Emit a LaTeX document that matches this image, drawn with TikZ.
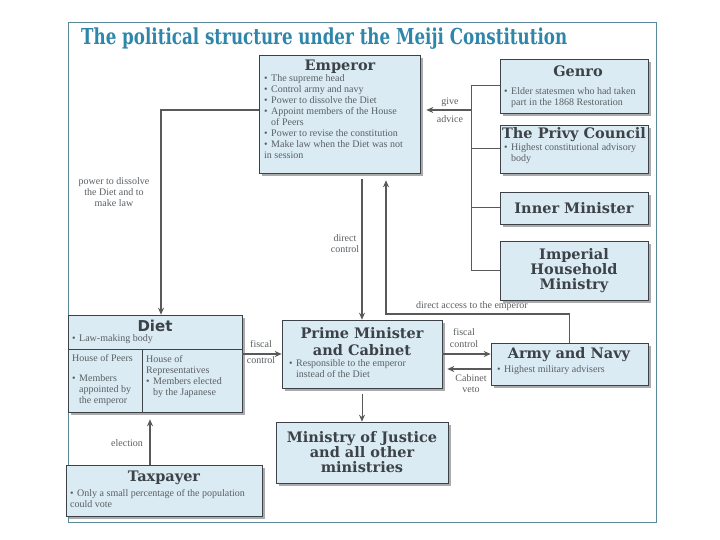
\documentclass[tikz,border=0pt]{standalone}
\usepackage{fontspec}
\setmainfont{Liberation Serif}
\newfontfamily\headserif{DejaVu Serif}
\newfontfamily\headsans{DejaVu Sans}
\usetikzlibrary{arrows.meta,shadows}

\definecolor{boxblue}{HTML}{DAEBF3}
\definecolor{inkgray}{HTML}{3C4247}
\definecolor{txtgray}{HTML}{5A5F63}
\definecolor{arrowgray}{HTML}{595959}
\definecolor{titleteal}{HTML}{2E86AB}
\definecolor{framegray}{HTML}{5A8A9A}

\newcommand{\bul}{\makebox[7pt][l]{\textbullet}}
\newcommand{\ind}{\hspace*{7pt}}

\tikzset{
  box/.style={draw=inkgray, line width=0.6pt, fill=boxblue, inner sep=0pt,
    drop shadow={shadow xshift=3pt, shadow yshift=-3pt, fill=black!60, opacity=0.55}},
  head/.style={font=\headserif\bfseries\fontsize{14.5}{15}\selectfont, text=inkgray, align=center, inner sep=0pt},
  body/.style={font=\fontsize{10}{11}\selectfont, text=txtgray, align=left, inner sep=0pt, anchor=north west},
  lbl/.style={font=\fontsize{10}{11}\selectfont, text=txtgray, align=center, inner sep=0pt},
  link/.style={draw=arrowgray, line width=1.3pt, -{Stealth[length=7pt,width=6pt]}},
  wire/.style={draw=arrowgray, line width=1pt},
}

\begin{document}
\begin{tikzpicture}[x=1pt, y=-1pt]
\useasboundingbox (0,0) rectangle (720,540);

% Frame and title
\draw[framegray, line width=0.8pt] (68,22) rectangle (656,522);
\node[font=\headserif\bfseries\fontsize{22}{22}\selectfont, text=titleteal, anchor=west, inner sep=0pt] (title) at (81,39)
  {\scalebox{0.76}[1]{The political structure under the Meiji Constitution}};

% Boxes
\node[box, minimum width=161, minimum height=118] (emp) at (339.5,114) {};
\node[box, minimum width=148, minimum height=54] (genro) at (574,86) {};
\node[box, minimum width=148, minimum height=48] (privy) at (574,149) {};
\node[box, minimum width=148, minimum height=32] (inner) at (574,208) {};
\node[box, minimum width=148, minimum height=59] (imperial) at (574,270.5) {};
\node[box, minimum width=174, minimum height=97] (diet) at (155,363.5) {};
\node[box, minimum width=160, minimum height=68] (pm) at (362,354) {};
\node[box, minimum width=157, minimum height=42] (army) at (569.5,364) {};
\node[box, minimum width=172, minimum height=61] (ministry) at (362,452.5) {};
\node[box, minimum width=196, minimum height=51] (tax) at (164,490.5) {};

% Emperor
\node[head] (empT) at (340,67) {Emperor};
\node[body] (empB) at (264,74.5) {\bul The supreme head\\ \bul Control army and navy\\ \bul Power to dissolve the Diet\\
  \bul Appoint members of the House\\ \ind of Peers\\ \bul Power to revise the constitution\\
  \bul Make law when the Diet was not\\ in session};

% Advisers
\node[head] (genroT) at (578,71) {Genro};
\node[body] (genroB) at (504,87.5) {\bul Elder statesmen who had taken\\ \ind part in the 1868 Restoration};
\node[head] (privyT) at (574,135) {The Privy Council};
\node[body] (privyB) at (504,143) {\bul Highest constitutional advisory\\ \ind body};
\node[head] (innerT) at (574,208) {Inner Minister};
\node[head] (imperialT) at (574,270.5) {Imperial\\Household\\Ministry};

% Diet
\coordinate (split) at (142,349);
\node[head, font=\headsans\bfseries\fontsize{15}{15}\selectfont] (dietT) at (155,326) {Diet};
\node[body] (dietB) at (72,334.5) {\bul Law-making body};
\draw[inkgray, line width=0.6pt] (diet.west |- split) -- (diet.east |- split);
\draw[inkgray, line width=0.6pt] (split) -- (split |- diet.south);
\node[body] (peersB) at (72,354.5) {House of Peers\\[9pt] \bul Members\\ \ind appointed by\\ \ind the emperor};
\node[body] (repsB) at (146,355.5) {House of\\Representatives\\ \bul Members elected\\ \ind by the Japanese};

% Cabinet, army, ministries, taxpayer
\node[head, font=\headserif\bfseries\fontsize{14.5}{17}\selectfont] (pmT) at (362,342) {Prime Minister\\and Cabinet};
\node[body] (pmB) at (289,359.5) {\bul Responsible to the emperor\\ \ind instead of the Diet};
\node[head] (armyT) at (569,355) {Army and Navy};
\node[body] (armyB) at (497,365.5) {\bul Highest military advisers};
\node[head] (ministryT) at (362,452.5) {Ministry of Justice\\and all other\\ministries};
\node[head] (taxT) at (164,478) {Taxpayer};
\node[body] (taxB) at (70,489.5) {\bul Only a small percentage of the population\\ could vote};

% Give advice
\coordinate (adv) at (471,110);
\draw[wire] (genro.west) -| (imperial.west -| adv) -- (imperial.west);
\draw[wire] (privy.west) -- (privy.west -| adv);
\draw[wire] (inner.west) -- (inner.west -| adv);
\draw[link, shorten >=6pt] (adv) -- (adv -| emp.east);
\node[lbl] (givelbl) at (450,102) {give};
\node[lbl] (advlbl) at (450,119) {advice};

% Emperor to Diet and Cabinet
\draw[link] ([yshift=4pt]emp.west) -| ([xshift=6pt]diet.north);
\node[lbl] (powerlbl) at (114,192) {power to dissolve\\the Diet and to\\make law};
\draw[link, shorten <=6pt] (emp.south -| pm.north) -- (pm.north);
\node[lbl] (ctrllbl) at (345,244) {direct\\control};

% Direct access
\coordinate (acc) at (386,314);
\draw[link, shorten >=7pt] (army.north) |- (acc) -- (acc |- emp.south);
\node[lbl] (acclbl) at (472,306) {direct access to the emperor};

% Fiscal control and veto
\draw[link] (pm.west -| diet.east) -- (pm.west);
\node[lbl] (fisc1) at (261,344) {fiscal};
\node[lbl] (ctl1) at (261,360) {control};
\draw[link] (pm.east) -- (pm.east -| army.west);
\node[lbl] (fisc2) at (464,332) {fiscal};
\node[lbl] (ctl2) at (464,344) {control};
\draw[link, shorten >=5pt] ([yshift=-5pt]army.west) -- ([yshift=-5pt]army.west -| pm.east);
\node[lbl] (vetolbl) at (471,384) {Cabinet\\veto};

% Ministries and election
\draw[link, line width=1pt, shorten <=6pt] (pm.south) -- (ministry.north);
\draw[link, shorten >=7pt] ([xshift=-14pt]tax.north) -- ([xshift=-14pt]tax.north |- diet.south);
\node[lbl] (electlbl) at (127,443) {election};
\end{tikzpicture}
\end{document}
